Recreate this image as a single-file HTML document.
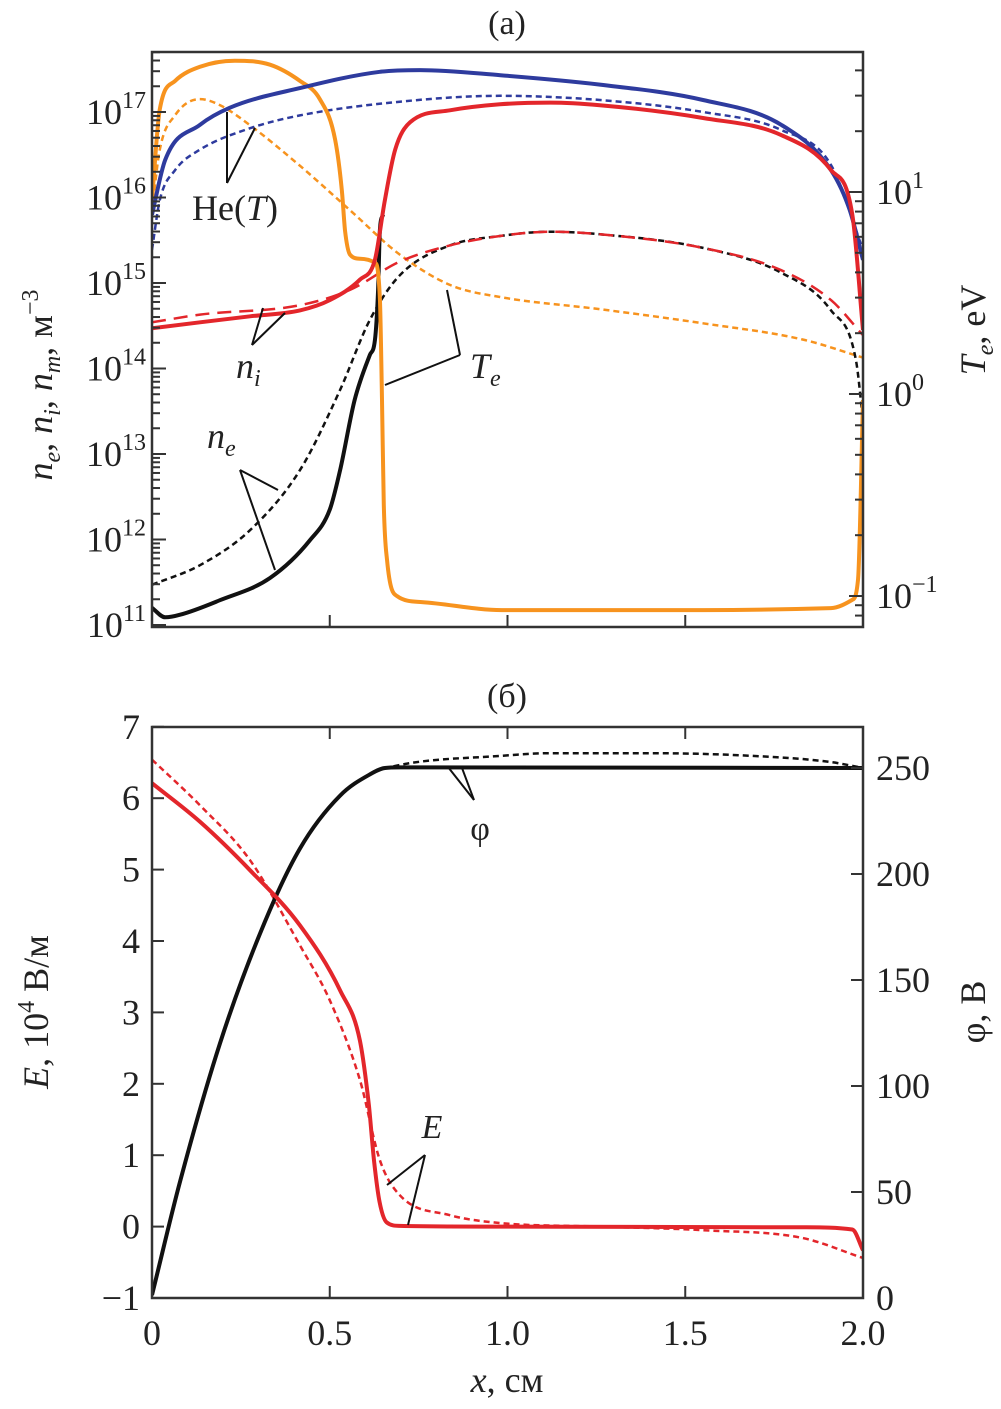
<!DOCTYPE html>
<html><head><meta charset="utf-8"><style>
body{margin:0;background:#fff}
svg text{font-family:"Liberation Serif",serif;fill:#222}
</style></head><body>
<svg id="c" width="1001" height="1404" xmlns="http://www.w3.org/2000/svg"></svg>
<script>
// ---- data: top panel (x in cm) ----
const blueSolidX=[0,.037,.135,.219,.416,.641,.754,.98,1.26,1.55,1.77,1.91,1.963,2.0];
const blueSolidLogN=[15.8,16.44,16.85,17.05,17.28,17.47,17.49,17.43,17.32,17.14,16.85,16.32,15.85,15.27];
const blueDashX=[0,.022,.065,.135,.276,.416,.697,.979,1.26,1.55,1.77,1.91,2.0];
const blueDashLogN=[15.39,15.97,16.32,16.56,16.81,16.96,17.12,17.19,17.14,17.0,16.79,16.38,15.39];
const orangeSolidX=[0,.022,.065,.135,.233,.332,.416,.472,.515,.534,.543,.557,.585,.627,.641,.647,.652,.661,.689,.759,.984,1.55,1.91,1.969,1.986,2.0];
const orangeSolidLogT=[0.96,1.41,1.55,1.62,1.65,1.63,1.55,1.46,1.26,1.01,0.81,0.69,0.67,0.65,0.47,-0.03,-0.55,-0.82,-1.0,-1.03,-1.07,-1.07,-1.06,-1.02,-0.92,-0.03];
const orangeDashX=[0,.022,.065,.135,.191,.276,.416,.557,.697,.838,.979,1.26,1.55,1.83,2.0];
const orangeDashLogT=[0.91,1.21,1.38,1.46,1.43,1.33,1.13,0.91,0.69,0.54,0.48,0.42,0.35,0.27,0.18];
const redSolidX=[0,.135,.276,.416,.5,.585,.627,.655,.684,.726,.838,.979,1.12,1.26,1.55,1.77,1.91,1.97,2.0];
const redSolidLogN=[14.47,14.54,14.61,14.68,14.8,15.04,15.27,15.97,16.56,16.88,17.02,17.09,17.11,17.08,16.93,16.73,16.32,15.8,14.45];
const redDashX=[0,.135,.416,.557,.697,.838,.979,1.12,1.26,1.55,1.77,1.91,2.0];
const redDashLogN=[14.54,14.63,14.74,14.92,15.25,15.44,15.55,15.6,15.57,15.41,15.15,14.8,14.39];
const blackDashX=[0,.135,.276,.416,.529,.613,.697,.838,.979,1.12,1.26,1.55,1.77,1.91,1.98,2.0];
const blackDashLogN=[11.47,11.7,12.11,12.81,13.75,14.57,15.09,15.44,15.55,15.6,15.57,15.41,15.12,14.68,14.1,13.4];
const blackSolidX=[0,.037,.079,.191,.332,.444,.5,.529,.57,.613,.627,.636,.641,.65];
const blackSolidLogN=[11.2,11.09,11.12,11.29,11.55,11.99,12.35,12.81,13.63,14.16,14.33,14.92,15.62,15.8];
// ---- data: bottom panel ----
const eSolidX=[0,.135,.276,.416,.53,.585,.61,.625,.64,.66,.697,.979,1.84,1.97,2.0];
const eSolid=[6.21,5.67,4.99,4.22,3.3,2.6,1.7,0.9,0.35,0.06,0.01,0.0,-0.01,-0.04,-0.33];
const eDashX=[0,.135,.276,.416,.5,.585,.641,.697,.838,.979,1.26,1.55,1.83,2.0];
const eDash=[6.54,5.9,5.13,3.94,3.17,2.05,0.93,0.44,0.16,0.05,0.0,-0.05,-0.16,-0.44];
const phiSolidX=[0,.079,.191,.304,.416,.529,.613,.655,.697,2.0];
const phiSolid=[1.4,55,120,172,212,237,247,250,250.3,250];
const phiDashX=[0,.079,.191,.304,.416,.529,.613,.697,.979,1.12,1.41,1.69,1.91,2.0];
const phiDash=[1.4,55,120,172,212,237,247,251.4,255.7,257,257,255.7,252.8,250];
const xTicks=[0,0.5,1.0,1.5,2.0];
const xTickLabels=["0","0.5","1.0","1.5","2.0"];
const nDecades=[11,12,13,14,15,16,17];
const tDecades=[-1,0,1];
const eTicks=[-1,0,1,2,3,4,5,6,7];
const phiTicks=[0,50,100,150,200,250];

const svg=document.getElementById('c');const NS="http://www.w3.org/2000/svg";
function mk(tag,attrs,name,parent){const e=document.createElementNS(NS,tag);for(const k in attrs)e.setAttribute(k,attrs[k]);


(parent||svg).appendChild(e);return e;}
const L=152,R=863,T1=52,B1=627,T2=727,B2=1298;
const X=x=>L+355.5*x;
const Yn=v=>112-(v-17)*85.5;
const Yt=v=>192-(v-1)*202;
const Ye=v=>1298-(v+1)*71.4;
const Yp=v=>1298-v*2.12;
function smooth(px,py){const n=px.length;const d=[],m=[];
for(let i=0;i<n-1;i++)d.push((py[i+1]-py[i])/(px[i+1]-px[i]));
m[0]=d[0];m[n-1]=d[n-2];
for(let i=1;i<n-1;i++){m[i]=(d[i-1]*d[i]<=0)?0:(d[i-1]+d[i])/2;}
for(let i=0;i<n-1;i++){if(d[i]===0){m[i]=0;m[i+1]=0;continue;}const a=m[i]/d[i],b=m[i+1]/d[i],s=a*a+b*b;if(s>9){const t=3/Math.sqrt(s);m[i]=t*a*d[i];m[i+1]=t*b*d[i];}}
let p='M'+px[0].toFixed(1)+','+py[0].toFixed(1);
for(let i=0;i<n-1;i++){const h=(px[i+1]-px[i])/3;
p+='C'+(px[i]+h).toFixed(1)+','+(py[i]+m[i]*h).toFixed(1)+' '+(px[i+1]-h).toFixed(1)+','+(py[i+1]-m[i+1]*h).toFixed(1)+' '+px[i+1].toFixed(1)+','+py[i+1].toFixed(1);}
return p;}
function line(xs,ys,fy,col,w,dash,name,clip){const d=smooth(xs.map(X),ys.map(fy));
const a={d:d,fill:'none',stroke:col,'stroke-width':w,'stroke-linejoin':'round','clip-path':'url(#'+clip+')'};if(dash)a['stroke-dasharray']=dash;mk('path',a,name);}
const defs=mk('defs',{},'defs');
const c1=mk('clipPath',{id:'cp1'},'clip-top',defs);mk('rect',{x:L,y:T1,width:R-L,height:B1-T1},'clip-rect',c1);
const c2=mk('clipPath',{id:'cp2'},'clip-bottom',defs);mk('rect',{x:L,y:T2,width:R-L,height:B2-T2},'clip-rect',c2);
const BL='#2e3b9e',OR='#f7931e',RD='#e3262b',BK='#111';
line(orangeDashX,orangeDashLogT,Yt,OR,2.5,'6,4','orange-dashed-te','cp1');
line(blueDashX,blueDashLogN,Yn,BL,2.5,'6,4','blue-dashed-he','cp1');
line(blackDashX,blackDashLogN,Yn,BK,2.5,'6,4','black-dashed-ne','cp1');
line(redDashX,redDashLogN,Yn,RD,2.5,'14,8','red-dashed-ni','cp1');
line(blackSolidX,blackSolidLogN,Yn,BK,4,null,'black-solid-ne','cp1');
line(orangeSolidX,orangeSolidLogT,Yt,OR,4,null,'orange-solid-te','cp1');
line(blueSolidX,blueSolidLogN,Yn,BL,4,null,'blue-solid-he','cp1');
line(redSolidX,redSolidLogN,Yn,RD,4,null,'red-solid-ni','cp1');
line(eDashX,eDash,Ye,RD,2.5,'6,4','e-dashed','cp2');
line(phiDashX,phiDash,Yp,BK,2.5,'6,4','phi-dashed','cp2');
line(phiSolidX,phiSolid,Yp,BK,4,null,'phi-solid','cp2');
line(eSolidX,eSolid,Ye,RD,4,null,'e-solid','cp2');
mk('rect',{x:L,y:T1,width:R-L,height:B1-T1,fill:'none',stroke:'#333','stroke-width':2.5},'top-frame');
mk('rect',{x:L,y:T2,width:R-L,height:B2-T2,fill:'none',stroke:'#333','stroke-width':2.5},'bottom-frame');
function tk(x1,y1,x2,y2,n){mk('line',{x1,y1,x2,y2,stroke:'#333','stroke-width':2},n);}
function txt(x,y,s,anchor,size,name,extra){const t=mk('text',Object.assign({x,y,'text-anchor':anchor,'font-size':size},extra||{}),name);t.innerHTML=s;return t;}
xTicks.forEach((v,i)=>{const x=X(v);tk(x,B1,x,B1-12,'x-tick-top');tk(x,B2,x,B2-12,'x-tick-bottom');tk(x,T2,x,T2+12,'x-tick-bottom-top');
txt(x,1345,xTickLabels[i],'middle',36,'x-tick-label');});
nDecades.forEach(d=>{tk(L,Yn(d),L+14,Yn(d),'n-major-tick');
for(let m=2;m<10;m++){const y=Yn(d+Math.log10(m));if(y>T1&&y<B1)tk(L,y,L+8,y,'n-minor-tick');}
txt(146,Yn(d)+12,'10<tspan font-size="24" dy="-16">'+d+'</tspan>','end',36,'n-tick-label');});
tDecades.forEach(d=>{tk(R,Yt(d),R-14,Yt(d),'t-major-tick');
for(let m=2;m<10;m++){const y=Yt(d+Math.log10(m));if(y>T1&&y<B1)tk(R,y,R-8,y,'t-minor-tick');}
for(let m=2;m<10;m++){const y=Yt(d-1+Math.log10(m));if(y>T1&&y<B1&&d==-1)tk(R,y,R-8,y,'t-minor-tick');}
txt(876,Yt(d)+12,'10<tspan font-size="24" dy="-16">'+(d<0?'−1':d)+'</tspan>','start',36,'t-tick-label');});
eTicks.forEach(v=>{tk(L,Ye(v),L+12,Ye(v),'e-tick');txt(140,Ye(v)+12,v<0?'−'+(-v):v,'end',36,'e-tick-label');});
phiTicks.forEach(v=>{tk(R,Yp(v),R-12,Yp(v),'phi-tick');txt(876,Yp(v)+12,v,'start',36,'phi-tick-label');});
txt(507,34,'(a)','middle',34,'panel-a-title');
txt(507,707,'(б)','middle',34,'panel-b-title');
txt(507,1392,'<tspan font-style="italic">x</tspan>, см','middle',36,'x-axis-title');
txt(0,0,'<tspan font-style="italic">n<tspan font-size="24" dy="8">e</tspan></tspan><tspan dy="-8">, </tspan><tspan font-style="italic">n<tspan font-size="24" dy="8">i</tspan></tspan><tspan dy="-8">, </tspan><tspan font-style="italic">n<tspan font-size="24" dy="8">m</tspan></tspan><tspan dy="-8">, м</tspan><tspan font-size="24" dy="-14">−3</tspan>','middle',36,'y-axis-title-left-top',{transform:'translate(52,385) rotate(-90)'});
txt(0,0,'<tspan font-style="italic">T<tspan font-size="24" dy="8">e</tspan></tspan><tspan dy="-8">, eV</tspan>','middle',36,'y-axis-title-right-top',{transform:'translate(985,330) rotate(-90)'});
txt(0,0,'<tspan font-style="italic">E</tspan>, 10<tspan font-size="24" dy="-14">4</tspan><tspan dy="14"> В/м</tspan>','middle',36,'y-axis-title-left-bottom',{transform:'translate(48,1012) rotate(-90)'});
txt(0,0,'φ, В','middle',36,'y-axis-title-right-bottom',{transform:'translate(985,1012) rotate(-90)'});
function al(x1,y1,x2,y2){mk('line',{x1,y1,x2,y2,stroke:'#111','stroke-width':2},'annotation-line');}
al(227,112,227,183);al(227,183,255,128);
txt(192,220,'He(<tspan font-style="italic">T</tspan>)','start',36,'label-he');
al(263,308,252,345);al(285,313,252,345);
txt(236,378,'<tspan font-style="italic">n<tspan font-size="24" dy="8">i</tspan></tspan>','start',36,'label-ni');
al(447,290,460,355);al(385,385,460,355);
txt(470,378,'<tspan font-style="italic">T<tspan font-size="24" dy="8">e</tspan></tspan>','start',36,'label-te');
al(240,470,278,490);al(240,470,275,570);
txt(207,448,'<tspan font-style="italic">n<tspan font-size="24" dy="8">e</tspan></tspan>','start',36,'label-ne');
al(448,767,474,800);al(462,768,474,800);
txt(480,840,'φ','middle',34,'label-phi');
al(425,1155,387,1185);al(425,1155,408,1225);
txt(432,1138,'<tspan font-style="italic">E</tspan>','middle',34,'label-e');
</script>
</body></html>
